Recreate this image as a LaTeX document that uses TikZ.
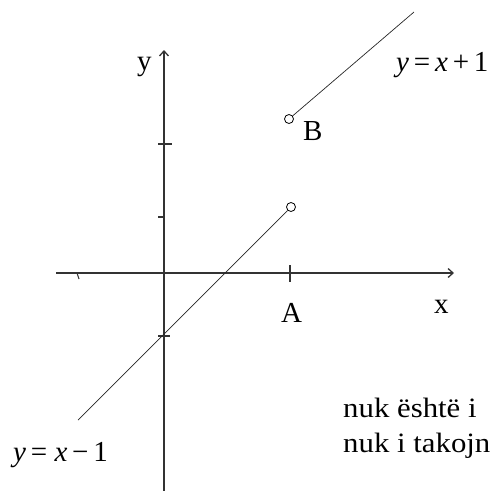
\documentclass[tikz,border=0pt]{standalone}
\usepackage{fontspec}
\setmainfont{Liberation Serif}
\usepackage{tikz}
\usetikzlibrary{arrows.meta}

\begin{document}
\begin{tikzpicture}[x=1pt, y=-1pt,
    axis/.style={line width=1.3pt, draw=black!80, -{Straight Barb[length=5pt, width=9pt]}},
    graph/.style={line width=0.7pt, draw=black!85},
    tick/.style={line width=1.1pt, draw=black!80},
    hole/.style={circle, draw=black, line width=0.8pt, fill=white, minimum size=9pt, inner sep=0pt},
    lbl/.style={font=\fontsize{29}{32}\selectfont, inner sep=0pt, anchor=base west},
    txt/.style={font=\fontsize{28}{32}\selectfont, inner sep=0pt, anchor=base west, xscale=1.1}]

    \useasboundingbox (0,0) rectangle (491,491);

    % axes
    \coordinate (xs) at (56,273);
    \coordinate (xe) at (454,273);
    \coordinate (ys) at (164,491);
    \coordinate (ye) at (164,50);
    \draw [axis] (xs) -- (xe);
    \draw [axis] (ys) -- (ye);

    % ticks
    \draw [tick] (158,144) -- (172,144);
    \draw [tick] (158,217) -- (164,217);
    \draw [tick] (158,336) -- (170,336);
    \draw [tick] (290,265) -- (290,282);
    \draw [tick] (77,273) -- (79,279);

    % the two branches
    \node [hole] (a) at (291,207) {};
    \node [hole] (b) at (289,119) {};
    \coordinate (lo) at (78,420);
    \coordinate (hi) at (414,12);
    \draw [graph] (lo) -- (a);
    \draw [graph] (b) -- (hi);

    \node [lbl] (ylab) at (137,70) {y};
    \node [lbl] (xlab) at (434,313) {x};
    \node [lbl] (alab) at (281,322) {A};
    \node [lbl] (blab) at (303,140) {B};

    \node [lbl] (f1) at (396,71) {\textit{y}\,=\,\textit{x}\,+\,1};
    \node [lbl] (f2) at (13,461) {\textit{y}\,= \textit{x}\,\textminus\,1};

    \node [txt] (t1) at (343,417) {nuk është i};
    \node [txt] (t2) at (343,452) {nuk i takojn};
\end{tikzpicture}
\end{document}
